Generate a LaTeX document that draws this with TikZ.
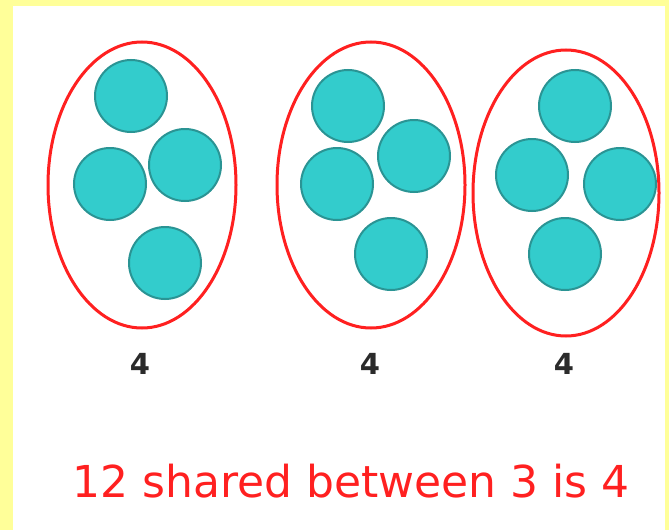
\documentclass[tikz,border=0pt]{standalone}
\usepackage{fontspec}
\setmainfont{DejaVu Sans}
\definecolor{bgyellow}{HTML}{FFFF99}
\definecolor{ballfill}{HTML}{33CCCC}
\definecolor{balledge}{HTML}{2A9494}
\definecolor{ringred}{HTML}{FF2020}
\definecolor{numgray}{HTML}{2B2B2B}
\begin{document}
\begin{tikzpicture}[x=1pt,y=-1pt,
  ball/.style={circle,fill=ballfill,draw=balledge,line width=2pt,minimum size=72pt,inner sep=0pt},
  ring/.style={ellipse,draw=ringred,line width=3pt,inner sep=0pt},
  count/.style={text=numgray,font=\fontsize{29}{29}\selectfont\bfseries,inner sep=0pt}]
\usetikzlibrary{shapes.geometric}
\fill[bgyellow] (0,0) rectangle (669,530);
\fill[white] (13,6) rectangle (665,530);
\useasboundingbox (0,0) rectangle (669,530);
% group 1
\draw[ring] (142,185) ellipse [x radius=94, y radius=143];
\node[ball] (a1) at (131,96) {};
\node[ball] (a2) at (110,184) {};
\node[ball] (a3) at (185,165) {};
\node[ball] (a4) at (165,263) {};
% group 2
\draw[ring] (371,185) ellipse [x radius=94, y radius=143];
\node[ball] (b1) at (348,106) {};
\node[ball] (b2) at (414,156) {};
\node[ball] (b3) at (337,184) {};
\node[ball] (b4) at (391,254) {};
% group 3
\draw[ring] (566,193) ellipse [x radius=93, y radius=143];
\node[ball] (c1) at (575,106) {};
\node[ball] (c2) at (532,175) {};
\node[ball] (c3) at (620,184) {};
\node[ball] (c4) at (565,254) {};
% counts
\node[count] (n1) at (140,364) {4};
\node[count] (n2) at (370,364) {4};
\node[count] (n3) at (564,364) {4};
% caption
\node[text=ringred,inner sep=0pt] (cap) at (351,481) {\resizebox{557pt}{!}{12 shared between 3 is 4}};
\end{tikzpicture}
\end{document}
